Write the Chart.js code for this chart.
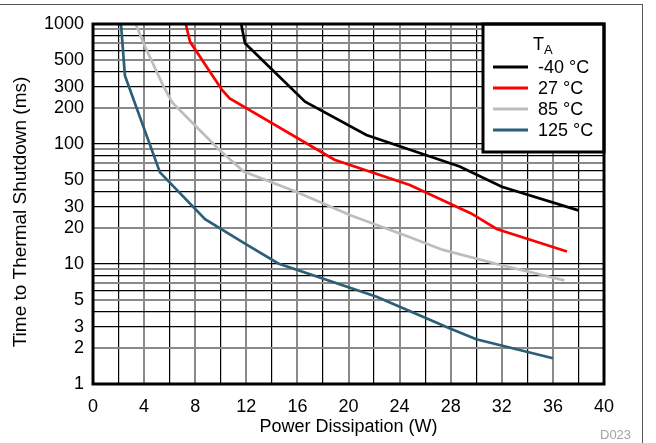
<!DOCTYPE html>
<html>
<head>
<meta charset="utf-8">
<script src="https://cdn.jsdelivr.net/npm/chart.js@4/dist/chart.umd.min.js"></script>
<style>
	html, body { margin: 0; padding: 0; background: #fff; }
	#wrap { position: relative; width: 656px; height: 443px; overflow: hidden; }
	#frame { position: absolute; left: -2px; top: 4px; width: 644px; height: 450px;
		border-top: 1.5px solid #555; border-right: 1.5px solid #555; }
	#code { position: absolute; left: 600px; top: 427px; font: 13px "Liberation Sans", Arial, sans-serif; color: #a3a3a3; }
	canvas { position: absolute; left: 0; top: 0; }
</style>
</head>
<body>
<div id="wrap">
	<div id="frame"></div>
	<canvas id="chart" width="656" height="443"></canvas>
	<div id="code">D023</div>
</div>
<script>
// power dissipation (W) / time to thermal shutdown (ms)
const seriesLabels = ['-40 °C', '27 °C', '85 °C', '125 °C'];
const seriesColors = ['#000000', '#ff0000', '#bdbdbd', '#2b5f78'];

const powerM40 = [11.6, 11.9, 16.6, 21.4, 28.7, 32.0, 38.0];
const timeM40 = [1000, 690, 225, 119, 65, 44, 28];

const power27 = [7.26, 7.6, 10.1, 10.7, 18.9, 24.8, 29.6, 31.6, 37.1];
const time27 = [1000, 710, 282, 240, 74, 45.5, 26.4, 19.6, 12.7];

const power85 = [3.34, 4.07, 5.5, 6.2, 9.9, 11.8, 15.9, 20.1, 24.6, 27.4, 31.9, 36.9];
const time85 = [1000, 650, 305, 222, 89, 59, 40, 25.6, 17, 13.1, 9.8, 7.3];

const power125 = [2.19, 2.5, 5.24, 8.77, 11.8, 14.5, 22.2, 27.9, 30.0, 36.0];
const time125 = [1000, 370, 58, 23.6, 15, 10.1, 5.34, 2.91, 2.36, 1.64];

const yLabelValues = [1, 2, 3, 5, 10, 20, 30, 50, 100, 200, 300, 500, 1000];
const yGrayMantissas = [2, 5, 7, 9];
const yTitle = 'Time to Thermal Shutdown (ms)';

const FONT = '"Liberation Sans", Arial, sans-serif';

const toPoints = (xs, ys) => xs.map((x, i) => ({x: x, y: ys[i]}));
const mantissa = v => Math.round(v / Math.pow(10, Math.floor(Math.log10(v) + 1e-9)));

const plotFrame = {
	id: 'plotFrame',
	afterDatasetsDraw(chart) {
		const {ctx, chartArea: a} = chart;
		ctx.save();
		// legend box
		const lx = 483, ly = a.top, lw = a.right - lx, lh = 128;
		ctx.fillStyle = '#fff';
		ctx.fillRect(lx, ly, lw, lh);
		ctx.strokeStyle = '#000';
		ctx.lineWidth = 3;
		ctx.strokeRect(lx, ly, lw, lh);

		ctx.fillStyle = '#000';
		ctx.textBaseline = 'middle';
		ctx.font = '18px ' + FONT;
		ctx.fillText('T', 533, 45);
		ctx.font = '13px ' + FONT;
		ctx.fillText('A', 544, 50);

		chart.data.datasets.forEach((ds, i) => {
			const y = 67 + i * 21;
			ctx.strokeStyle = ds.borderColor;
			ctx.lineWidth = 3;
			ctx.beginPath();
			ctx.moveTo(493, y);
			ctx.lineTo(528, y);
			ctx.stroke();
			ctx.fillStyle = '#000';
			ctx.font = '18px ' + FONT;
			ctx.fillText(ds.label, 538, y + 1);
		});

		// plot border
		ctx.strokeStyle = '#000';
		ctx.lineWidth = 3;
		ctx.strokeRect(a.left, a.top, a.right - a.left, a.bottom - a.top);

		// y axis title, placed by hand
		ctx.translate(21, 212);
		ctx.rotate(-Math.PI / 2);
		ctx.textAlign = 'center';
		ctx.textBaseline = 'middle';
		ctx.fillStyle = '#000';
		ctx.font = '19px ' + FONT;
		ctx.fillText(yTitle, 0, 0);
		ctx.restore();
	}
};

new Chart(document.getElementById('chart'), {
	type: 'scatter',
	data: {
		datasets: [
			[powerM40, timeM40],
			[power27, time27],
			[power85, time85],
			[power125, time125]
		].map(([xs, ys], i) => ({
			label: seriesLabels[i],
			data: toPoints(xs, ys),
			showLine: true,
			borderColor: seriesColors[i],
			backgroundColor: seriesColors[i],
			borderWidth: 2.7,
			pointRadius: 0,
			tension: 0
		}))
	},
	options: {
		responsive: false,
		animation: false,
		devicePixelRatio: 1,
		layout: { padding: { top: 24, right: 52, left: 0, bottom: 0 } },
		plugins: {
			legend: { display: false },
			tooltip: { enabled: false }
		},
		scales: {
			x: {
				type: 'linear',
				min: 0,
				max: 40,
				afterFit: s => { s.height = 59; },
				border: { display: false },
				grid: {
					drawTicks: false,
					color: c => c.tick.value % 4 === 0 ? '#8a8a8a' : '#000',
					lineWidth: c => c.tick.value % 4 === 0 ? 2 : 1.2
				},
				ticks: {
					stepSize: 2,
					autoSkip: false,
					maxRotation: 0,
					padding: 12,
					color: '#000',
					font: { family: FONT, size: 18 },
					callback: v => v % 4 === 0 ? String(v) : ''
				},
				title: {
					display: true,
					text: 'Power Dissipation (W)',
					color: '#000',
					font: { family: FONT, size: 18 },
					padding: { top: 0, bottom: 5 }
				}
			},
			y: {
				type: 'logarithmic',
				min: 1,
				max: 1000,
				afterFit: s => { s.width = 93; },
				afterBuildTicks: s => {
					const t = [];
					for (let d = 1; d < 1000; d *= 10) {
						for (let m = 1; m < 10; m++) t.push({value: m * d});
					}
					t.push({value: 1000});
					s.ticks = t;
				},
				border: { display: false },
				grid: {
					drawTicks: false,
					color: c => yGrayMantissas.includes(mantissa(c.tick.value)) ? '#8a8a8a' : '#000',
					lineWidth: c => yGrayMantissas.includes(mantissa(c.tick.value)) ? 2 : 1.2
				},
				ticks: {
					autoSkip: false,
					padding: 9,
					color: '#000',
					font: { family: FONT, size: 18 },
					callback: v => yLabelValues.includes(v) ? String(v) : ''
				}
			}
		}
	},
	plugins: [plotFrame]
});
</script>
</body>
</html>
